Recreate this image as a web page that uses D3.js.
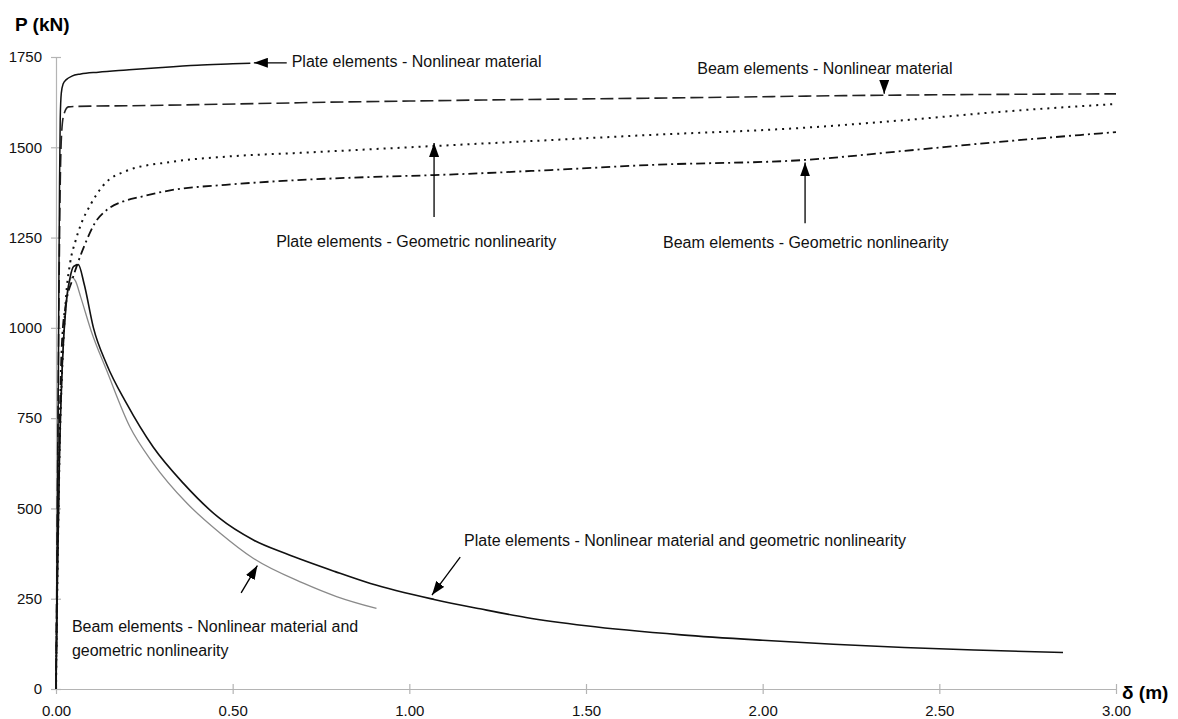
<!DOCTYPE html>
<html>
<head>
<meta charset="utf-8">
<script src="https://cdn.jsdelivr.net/npm/d3@7"></script>
<style>
  body { margin: 0; background: #fff; }
  svg text { font-family: "Liberation Sans", Arial, sans-serif; }
</style>
</head>
<body>
<div id="row"></div>
<script>

// tick values
var xTicks = [0, 0.5, 1.0, 1.5, 2.0, 2.5, 3.0];
var yTicks = [0, 250, 500, 750, 1000, 1250, 1500, 1750];

// displacement (m) / load (kN)
var plateNLMatD = [0, 0.003, 0.006, 0.008, 0.010, 0.012, 0.015, 0.020, 0.030, 0.045, 0.070, 0.12, 0.20, 0.30, 0.40, 0.50, 0.55];
var plateNLMatP = [0, 350, 750, 1100, 1400, 1580, 1650, 1675, 1688, 1697, 1703, 1708, 1714, 1721, 1727, 1731, 1733];

var beamNLMatD = [0, 0.003, 0.006, 0.009, 0.012, 0.016, 0.022, 0.035, 0.10, 0.20, 0.40, 0.62, 0.72, 1.00, 1.21, 1.50, 1.68, 2.00, 2.23, 2.60, 3.00];
var beamNLMatP = [0, 400, 800, 1150, 1400, 1540, 1590, 1612, 1614, 1615, 1618, 1622, 1624, 1628, 1631, 1634, 1636, 1640, 1643, 1646, 1648];

var plateGeomD = [0, 0.004, 0.010, 0.018, 0.028, 0.040, 0.055, 0.070, 0.10, 0.13, 0.20, 0.33, 0.48, 0.70, 1.08, 1.40, 1.68, 2.10, 2.40, 2.67, 3.00];
var plateGeomP = [0, 300, 650, 900, 1080, 1180, 1240, 1285, 1345, 1390, 1435, 1460, 1474, 1485, 1504, 1520, 1534, 1553, 1575, 1598, 1620];

var beamGeomD = [0, 0.003, 0.008, 0.013, 0.018, 0.030, 0.045, 0.060, 0.087, 0.11, 0.143, 0.19, 0.24, 0.33, 0.48, 0.68, 0.90, 1.07, 1.40, 1.68, 2.12, 2.40, 2.67, 3.00];
var beamGeomP = [0, 300, 600, 850, 980, 1077, 1130, 1175, 1243, 1290, 1326, 1350, 1363, 1382, 1396, 1409, 1418, 1423, 1437, 1451, 1465, 1490, 1515, 1542];

var plateBothD = [0, 0.004, 0.010, 0.018, 0.028, 0.040, 0.050, 0.063, 0.080, 0.106, 0.143, 0.20, 0.275, 0.36, 0.46, 0.56, 0.65, 0.79, 0.89, 1.07, 1.20, 1.33, 1.50, 1.77, 2.00, 2.20, 2.40, 2.60, 2.85];
var plateBothP = [0, 300, 650, 900, 1060, 1140, 1170, 1175, 1120, 1000, 900, 790, 670, 570, 475, 412, 375, 325, 292, 248, 222, 198, 175, 150, 135, 124, 115, 108, 101];

var beamBothD = [0, 0.004, 0.010, 0.018, 0.030, 0.045, 0.055, 0.070, 0.10, 0.143, 0.209, 0.275, 0.37, 0.464, 0.558, 0.70, 0.794, 0.907];
var beamBothP = [0, 300, 650, 900, 1070, 1140, 1130, 1085, 990, 883, 726, 625, 515, 432, 362, 293, 256, 223];

var svgWidth = 1178;
var svgHeight = 719;

var svg = d3.select("#row")
  .append("svg")
  .attr("width", svgWidth)
  .attr("height", svgHeight);

var xLinearScale = d3.scaleLinear().domain([0, 3]).range([56, 1116]);
var yLinearScale = d3.scaleLinear().domain([0, 1750]).range([689, 57]);

// axes
var bottomAxis = d3.axisBottom(xLinearScale)
  .tickValues(xTicks)
  .tickFormat(d3.format(".2f"))
  .tickSizeInner(5)
  .tickSizeOuter(0)
  .tickPadding(11);

var leftAxis = d3.axisLeft(yLinearScale)
  .tickValues(yTicks)
  .tickFormat(d3.format("d"))
  .tickSizeInner(5)
  .tickSizeOuter(0)
  .tickPadding(9);

var xAxis = svg.append("g")
  .attr("transform", "translate(0, 689)")
  .call(bottomAxis);
xAxis.selectAll("line").attr("y1", -5);

var yAxis = svg.append("g")
  .attr("transform", "translate(56, 0)")
  .call(leftAxis);
yAxis.selectAll("line").attr("x1", 5);

svg.selectAll(".domain, .tick line").attr("stroke", "#b4b4b4").attr("stroke-width", 1.2);
svg.selectAll(".tick text")
  .attr("font-size", 15)
  .attr("fill", "#111")
  .style("font-family", "Liberation Sans, Arial, sans-serif");

svg.append("text")
  .attr("x", 15).attr("y", 31)
  .attr("font-size", 19).attr("font-weight", "bold")
  .text("P (kN)");

svg.append("text")
  .attr("x", 1122).attr("y", 699)
  .attr("font-size", 19).attr("font-weight", "bold")
  .text("δ (m)");

// curves
var line = d3.line()
  .x(d => xLinearScale(d[0]))
  .y(d => yLinearScale(d[1]))
  .curve(d3.curveMonotoneX);

function addCurve(ds, ps, color, width, dash) {
  var pts = ds.map((d, i) => [d, ps[i]]);
  svg.append("path")
    .datum(pts)
    .attr("d", line)
    .attr("fill", "none")
    .attr("stroke", color)
    .attr("stroke-width", width)
    .attr("stroke-dasharray", dash)
    .attr("stroke-linejoin", "round");
}

addCurve(beamBothD, beamBothP, "#8a8a8a", 1.3, null);
addCurve(plateBothD, plateBothP, "#111", 1.6, null);
addCurve(beamGeomD, beamGeomP, "#111", 1.8, "9,4,2,4");
addCurve(plateGeomD, plateGeomP, "#111", 2, "2,5");
addCurve(beamNLMatD, beamNLMatP, "#222", 1.6, "13,5");
addCurve(plateNLMatD, plateNLMatP, "#111", 1.5, null);

// annotations: text position and arrow (from -> tip), in data units
svg.append("defs").append("marker")
  .attr("id", "head")
  .attr("markerUnits", "userSpaceOnUse")
  .attr("viewBox", "0 0 14 10")
  .attr("refX", 14).attr("refY", 5)
  .attr("markerWidth", 14).attr("markerHeight", 10)
  .attr("orient", "auto")
  .append("path")
  .attr("d", "M0,0 L14,5 L0,10 Z")
  .attr("fill", "#000");

var notes = [
  { lines: ["Plate elements - Nonlinear material"], tx: 0.667, tp: 1723, from: [0.653, 1734], to: [0.560, 1734] },
  { lines: ["Beam elements - Nonlinear material"], tx: 1.815, tp: 1703, from: [2.344, 1685], to: [2.344, 1648] },
  { lines: ["Plate elements - Geometric nonlinearity"], tx: 0.623, tp: 1225, from: [1.070, 1307], to: [1.070, 1512] },
  { lines: ["Beam elements - Geometric nonlinearity"], tx: 1.718, tp: 1220, from: [2.120, 1290], to: [2.120, 1458] },
  { lines: ["Plate elements - Nonlinear material and geometric nonlinearity"], tx: 1.155, tp: 395, from: [1.144, 365], to: [1.064, 260] },
  { lines: ["Beam elements - Nonlinear material and", "geometric nonlinearity"], tx: 0.045, tp: 159, from: [0.524, 266], to: [0.570, 342] }
];

notes.forEach(function(n) {
  var t = svg.append("text")
    .attr("x", xLinearScale(n.tx))
    .attr("y", yLinearScale(n.tp))
    .attr("font-size", 16)
    .attr("fill", "#111");
  n.lines.forEach(function(s, i) {
    t.append("tspan").attr("x", xLinearScale(n.tx)).attr("dy", i == 0 ? 0 : 24).text(s);
  });
  svg.append("line")
    .attr("x1", xLinearScale(n.from[0])).attr("y1", yLinearScale(n.from[1]))
    .attr("x2", xLinearScale(n.to[0])).attr("y2", yLinearScale(n.to[1]))
    .attr("stroke", "#000")
    .attr("stroke-width", 1.3)
    .attr("marker-end", "url(#head)");
});

</script>
</body>
</html>
